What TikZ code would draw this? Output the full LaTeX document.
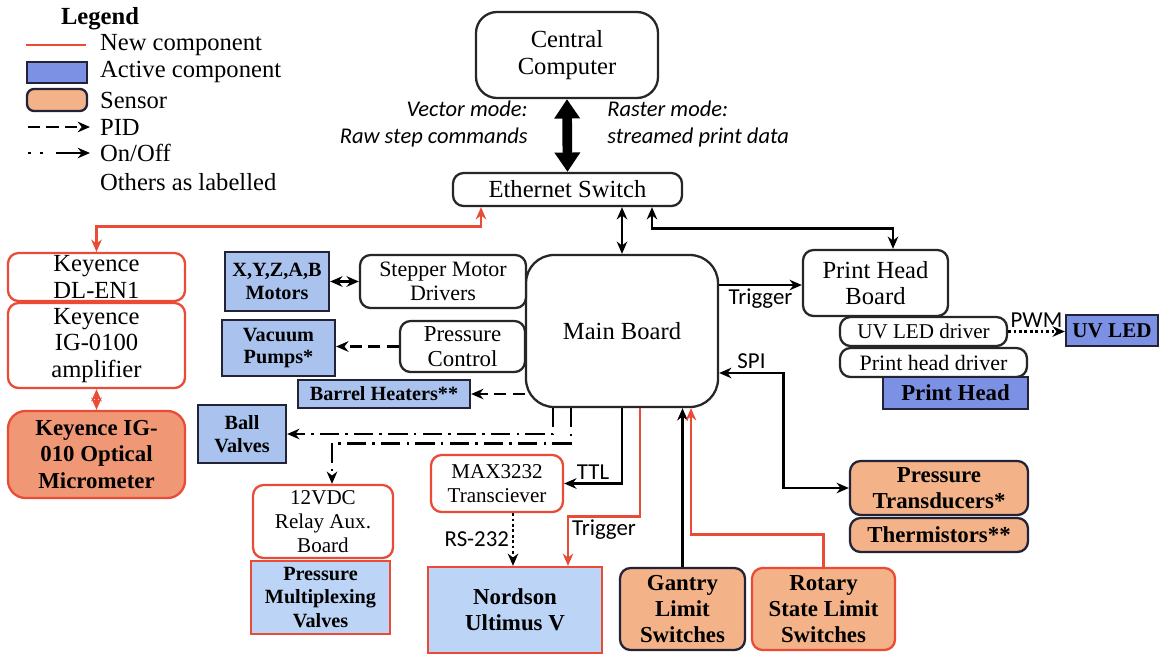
\documentclass[tikz,border=0pt]{standalone}
\usepackage{fontspec}
\setmainfont{Liberation Serif}
\setsansfont{Carlito}
\usetikzlibrary{arrows.meta, positioning, calc}
\definecolor{Rojo}{RGB}{233,75,55}
\definecolor{Tinta}{RGB}{35,35,55}
\definecolor{Celeste}{RGB}{170,195,238}
\definecolor{CelesteB}{RGB}{188,212,245}
\definecolor{Azul}{RGB}{125,145,228}
\definecolor{Naranja}{RGB}{243,178,135}
\definecolor{NaranjaK}{RGB}{240,152,118}
\newcommand{\fsz}[2]{\fontsize{#1}{#2}\selectfont}

\begin{document}
\begin{tikzpicture}[x=0.02cm, y=-0.02cm,
  wh/.style 2 args={minimum width=#1*0.02cm, minimum height=#2*0.02cm},
  box/.style  ={rectangle, rounded corners=6pt, draw=black!85, line width=1.3pt,
                fill=white, align=center, inner sep=1pt, font=\fsz{14}{15}},
  nbox/.style ={box, draw=Rojo},
  act/.style  ={rectangle, draw=Tinta, line width=1.3pt, fill=Celeste,
                align=center, inner sep=1pt, font=\bfseries\fsz{11.5}{13}},
  nact/.style ={act, draw=Rojo, fill=CelesteB, font=\bfseries\fsz{13}{15}},
  sens/.style ={rectangle, rounded corners=6pt, draw=Tinta, line width=1.3pt,
                fill=Naranja, align=center, inner sep=1pt, font=\bfseries\fsz{13}{15}},
  leg/.style  ={anchor=west, inner sep=1pt, font=\fsz{14}{16}},
  lbl/.style  ={inner sep=1.5pt, font=\sffamily\fsz{13}{15}},
  arr/.style  ={-{Stealth[length=7pt,width=6pt]}, line width=1.6pt},
  darr/.style ={{Stealth[length=7pt,width=6pt]}-{Stealth[length=7pt,width=6pt]}, line width=1.6pt},
  newarr/.style ={arr, draw=Rojo},
  newdarr/.style={darr, draw=Rojo},
  pidarr/.style ={arr, dash pattern=on 7pt off 3.5pt},
  onarr/.style  ={arr, dash pattern=on 11pt off 3.5pt on 1.5pt off 3.5pt},
  dotarr/.style ={arr, dash pattern=on 1.5pt off 1.6pt},
]
\useasboundingbox (0,0) rectangle (1159,653);

%% ═══════════════ Legend ═══════════════
\node[font=\bfseries\fsz{14}{16}] (LG) at (100,19) {Legend};
\node[leg] (L1) at (98,45)  {New component};
\node[leg] (L2) at (98,72)  {Active component};
\node[leg] (L3) at (98,100) {Sensor};
\node[leg] (L4) at (98,127) {PID};
\node[leg] (L5) at (98,153) {On/Off};
\node[leg] (L6) at (98,182) {Others as labelled};

\draw[Rojo, line width=1.6pt] (26,45) -- (86,45);
\draw[draw=Tinta, line width=1.3pt, fill=Azul] (27,62) rectangle (87,83);
\draw[draw=Tinta, line width=1.3pt, fill=Naranja, rounded corners=4pt] (27,89) rectangle (87,111);
\draw[pidarr] (28,127) -- ([xshift=-0.16cm]L4.west);
\draw[arr, dash pattern=on 1.5pt off 5.5pt on 1.5pt off 7.5pt on 20pt] (28,153) -- ([xshift=-0.16cm]L5.west);

%% ═══════════════ Top ═══════════════
\node[box, wh={182}{86}, rounded corners=12pt] (CC) at (567,55) {Central\\Computer};
\node[box, wh={229}{33}] (ES) at (567.5,189.5) {Ethernet Switch};

\node[font=\sffamily\itshape\fsz{12.8}{15.5}, align=right, anchor=east, inner sep=0pt]
  (VM) at (528,124) {Vector mode:\\Raw step commands};
\node[font=\sffamily\itshape\fsz{12.8}{15.5}, align=left, anchor=west, inner sep=0pt]
  (RM) at (607,124) {Raster mode:\\streamed print data};

\draw[line width=5.5pt, {Triangle[length=11pt,width=14pt]}-{Triangle[length=11pt,width=14pt]}]
  (CC.south) -- (ES.north);

%% ═══════════════ Keyence (left) ═══════════════
\node[nbox, wh={177}{48}] (KD) at (96.5,277) {Keyence\\DL-EN1};
\node[nbox, wh={177}{85}] (KA) at (96.5,345.5) {Keyence\\IG-0100\\amplifier};
\node[sens, draw=Rojo, fill=NaranjaK, wh={177}{87}, rounded corners=10pt]
  (KM) at (96.5,454.5) {Keyence IG-\\010 Optical\\Micrometer};

\draw[newdarr] (KD.north) -- ++(0,-25) -| ([xshift=-1.73cm]ES.south);
\draw[newdarr] (KA.south) -- (KM.north);

%% ═══════════════ Main board and actuators ═══════════════
\node[box, wh={192}{152}, rounded corners=16pt] (MB) at (622,331) {Main Board};
\node[act, wh={104}{59}] (MOT) at (277,281.5) {X,Y,Z,A,B\\Motors};
\node[box, wh={166}{53}, font=\fsz{12.5}{14}] (SMD) at (443,281.5) {Stepper Motor\\Drivers};
\node[act, wh={113}{56}] (VP) at (278.5,348) {Vacuum\\Pumps*};
\node[box, wh={125}{51}, font=\fsz{13}{14}] (PC) at (462.5,346.5) {Pressure\\Control};
\node[act, wh={172}{28}] (BH) at (384,394) {Barrel Heaters**};
\node[act, wh={88}{58}] (BV) at (242,434) {Ball\\Valves};
\node[nbox, wh={140}{73}, font=\fsz{12}{13.5}] (RLY) at (323,521.5) {12VDC\\Relay Aux.\\Board};
\node[nact, wh={139}{73}, font=\bfseries\fsz{11.5}{13.5}] (PMV) at (320.5,597.5) {Pressure\\Multiplexing\\Valves};
\node[nbox, wh={132}{57}, font=\fsz{12}{14}] (MAX) at (497,483.5) {MAX3232\\Transciever};
\node[nact, wh={174}{86}] (NOR) at (515,610) {Nordson\\Ultimus V};

\draw[darr] (MB.north |- ES.south) -- (MB.north);
\draw[darr] (SMD.west) -- (MOT.east);
\draw[pidarr] (PC.west) -- (PC.west -| VP.east);
\draw[pidarr] (BH.east -| MB.west) -- (BH.east);

% On/Off valves
\draw[onarr] ([xshift=-1.38cm]MB.south) |- (BV.east);
\draw[onarr] ([xshift=-1.02cm]MB.south) -- ++(0,35) -| ([xshift=0.18cm]RLY.north);

% Dispenser
\draw[arr] (MB.south) |- node[lbl, pos=0.75, above] (tTTL) {TTL} (MAX.east);
\draw[dotarr] ([xshift=0.32cm]MAX.south) --
  node[lbl, left] (tRS) {RS-232} ([xshift=0.32cm]MAX.south |- NOR.north);
\draw[newarr] ([xshift=0.36cm]MB.south) -- ++(0,108) -|
  node[lbl, pos=0.25, below] (tTR1) {Trigger} ([xshift=1.06cm]NOR.north);

%% ═══════════════ Sensors ═══════════════
\node[sens, wh={125}{82}] (GLS) at (682.5,609) {Gantry\\Limit\\Switches};
\node[sens, draw=Rojo, wh={143}{82}] (RLS) at (823.5,609) {Rotary\\State Limit\\Switches};
\node[sens, wh={178}{54}] (PT) at (939,488) {Pressure\\Transducers*};
\node[sens, wh={178}{34}] (TH) at (939,535) {Thermistors**};

\draw[arr] (GLS.north) -- (GLS.north |- MB.south);
\draw[newarr] (RLS.north) -- ++(0,-32) -| ([xshift=1.38cm]MB.south);
\draw[darr] (PT.west) -- ++(-65,0) |-
  node[lbl, pos=0.75, above] (tSPI) {SPI} ([yshift=-0.84cm]MB.east);

%% ═══════════════ Print head (right) ═══════════════
\node[box, wh={145}{66}] (PHB) at (875.5,283) {Print Head\\Board};
\node[box, wh={167}{29}, font=\fsz{12}{14}] (UVD) at (923.5,331.5) {UV LED driver};
\node[box, wh={187}{29}, font=\fsz{12.5}{14}] (PHD) at (933.5,362.5) {Print head driver};
\node[act, fill=Azul, wh={145}{32}, font=\bfseries\fsz{13}{15}] (PH) at (955.5,393) {Print Head};
\node[act, fill=Azul, wh={92}{31}, font=\bfseries\fsz{12}{14}] (UV) at (1112,330.5) {UV LED};

\draw[darr] ([xshift=1.69cm]ES.south) -- ++(0,21) -| ([xshift=0.35cm]PHB.north);
\draw[arr] ([yshift=0.92cm]MB.east) --
  node[lbl, below] (tTR2) {Trigger} ([yshift=0.92cm]MB.east -| PHB.west);
\draw[dotarr] (UVD.east) -- node[lbl, above] (tPWM) {PWM} (UVD.east -| UV.west);

\end{tikzpicture}
\end{document}
